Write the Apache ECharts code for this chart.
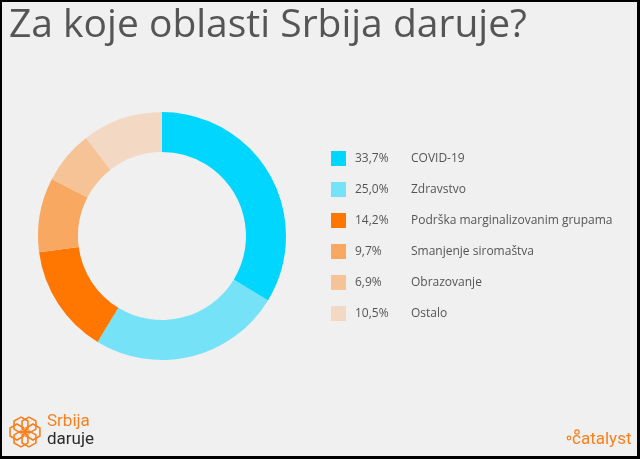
<!DOCTYPE html>
<html>
<head>
<meta charset="utf-8">
<script src="https://cdn.jsdelivr.net/npm/echarts@6/dist/echarts.min.js"></script>
<style>
  html, body { margin: 0; padding: 0; background: #000; }
  #main { position: absolute; left: 2px; top: 2px; width: 635px; height: 454px; background: #f0f0f0; }
</style>
</head>
<body>
<div id="main"></div>
<script>
// podaci
var categories = ['COVID-19', 'Zdravstvo', 'Podrška marginalizovanim grupama', 'Smanjenje siromaštva', 'Obrazovanje', 'Ostalo'];
var shares = [33.7, 25.0, 14.2, 9.7, 6.9, 10.5];
var colors = ['#00d6ff', '#76e2f7', '#ff7700', '#f9a862', '#f6c397', '#f3d9c4'];

var chart = echarts.init(document.getElementById('main'));

var pieData = categories.map(function (name, i) {
    return { name: name, value: shares[i], itemStyle: { color: colors[i] } };
});

// hexagon logo
function hexPoints(cx, cy, r) {
    var pts = [];
    for (var k = 0; k < 6; k++) {
        var a = Math.PI / 180 * (60 * k + 30);
        pts.push([cx + r * Math.cos(a), cy + r * Math.sin(a)]);
    }
    return pts;
}
var logo = [];
for (var k = 0; k < 6; k++) {
    var a = Math.PI / 180 * (60 * k);
    logo.push({
        type: 'polygon',
        shape: { points: hexPoints(23 + 8 * Math.cos(a), 430 + 8 * Math.sin(a), 8) },
        style: { fill: 'none', stroke: '#f7801e', lineWidth: 1.6 }
    });
}

var option = {
    backgroundColor: '#f0f0f0',
    title: {
        text: 'Za koje oblasti Srbija daruje?',
        left: 2,
        top: -1,
        textStyle: { fontFamily: 'Open Sans', fontWeight: 'normal', fontSize: 39, color: '#555555' }
    },
    legend: {
        orient: 'vertical',
        left: 324,
        top: 144,
        itemWidth: 15,
        itemHeight: 15,
        itemGap: 16,
        icon: 'rect',
        selectedMode: false,
        data: categories,
        formatter: function (name) {
            var i = categories.indexOf(name);
            return '{p|' + shares[i].toFixed(1).replace('.', ',') + '%}{n|' + name + '}';
        },
        textStyle: {
            fontFamily: 'Open Sans',
            fontSize: 12,
            color: '#555555',
            rich: {
                p: { width: 56, padding: [0, 0, 0, 4], fontFamily: 'Open Sans', fontSize: 12, color: '#555555' },
                n: { fontFamily: 'Open Sans', fontSize: 12, color: '#555555' }
            }
        }
    },
    graphic: logo.concat([
        { type: 'text', left: 45, top: 411, style: { text: 'Srbija', fill: '#f7801e', font: '17px Roboto' } },
        { type: 'text', left: 45, top: 429, style: { text: 'daruje', fill: '#2b2b2b', font: '17px Roboto' } },
        { type: 'circle', shape: { cx: 567, cy: 436, r: 1.8 }, style: { fill: 'none', stroke: '#f7801e', lineWidth: 1.2 } },
        { type: 'circle', shape: { cx: 575, cy: 430, r: 2.2 }, style: { fill: 'none', stroke: '#f7801e', lineWidth: 1.2 } },
        { type: 'text', left: 570, top: 429, style: { text: 'catalyst', fill: '#f7801e', font: '17px Roboto' } }
    ]),
    series: [{
        type: 'pie',
        center: [160, 234],
        radius: [84, 124],
        startAngle: 90,
        clockwise: true,
        avoidLabelOverlap: false,
        label: { show: false },
        labelLine: { show: false },
        emphasis: { disabled: true },
        itemStyle: { borderWidth: 0 },
        data: pieData
    }]
};

chart.setOption(option);
</script>
</body>
</html>
